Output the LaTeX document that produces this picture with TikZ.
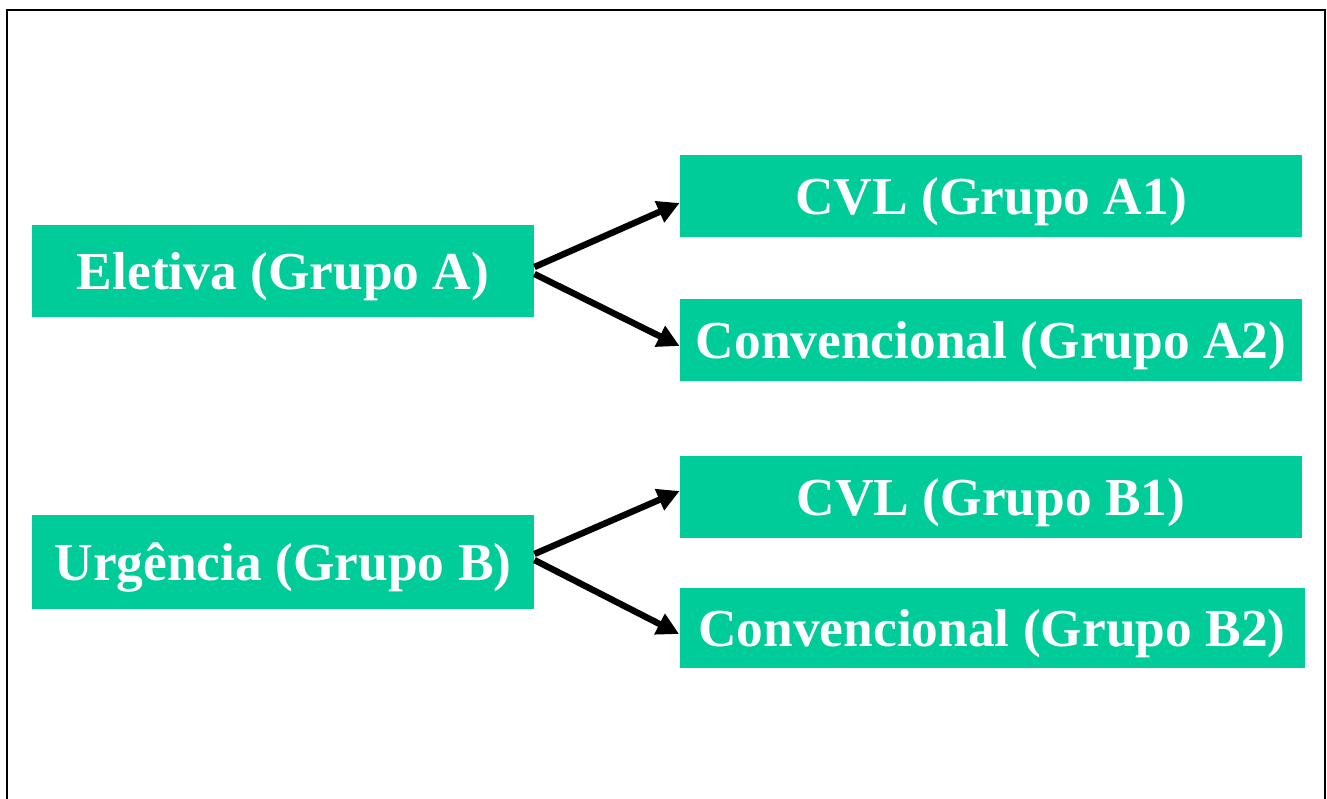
\documentclass[tikz,border=0pt]{standalone}
\usepackage{fontspec}
\setmainfont{Liberation Serif}
\usepackage{tikz}
\usetikzlibrary{arrows.meta,calc,positioning}
\definecolor{grpgreen}{RGB}{0,204,153}
\tikzset{
  grpbox/.style={rectangle,fill=grpgreen,text=white,inner sep=0pt,
    minimum width=251pt,minimum height=46pt,text depth=0pt,
    font=\fontsize{26.7}{30}\selectfont\bfseries},
  subbox/.style={grpbox,minimum width=311pt,minimum height=41pt},
  arr/.style={-{Triangle[length=11pt,width=11pt]},line width=3.2pt},
  frame/.style={line width=1.3pt}
}
\begin{document}
\begin{tikzpicture}[x=0.5pt,y=-0.5pt]
\useasboundingbox (0,0) rectangle (1327,798);
% outer frame (runs off the bottom)
\draw[frame] (7,820) -- (7,10) -- (1325,10) -- (1325,820);
% groups
\node[grpbox] (eletiva) at (283,271) {Eletiva (Grupo A)};
\node[grpbox,minimum height=47pt] (urgencia) at (283,562) {Urgência (Grupo B)};
% subgroups
\node[subbox] (cvlA) at (991,196) {CVL (Grupo A1)};
\node[subbox] (convA) at (991,340) {Convencional (Grupo A2)};
\node[subbox] (cvlB) at (991,497) {CVL (Grupo B1)};
\node[subbox,minimum width=312.5pt,minimum height=40pt] (convB) at (992,628) {Convencional (Grupo B2)};
% arrows
\draw[arr] ([yshift=2pt]eletiva.east) -- ([yshift=-3.5pt]cvlA.west);
\draw[arr] ([yshift=-1.5pt]eletiva.east) -- ([yshift=-3pt]convA.west);
\draw[arr] ([yshift=4pt]urgencia.east) -- ([yshift=3pt]cvlB.west);
\draw[arr] ([yshift=1pt]urgencia.east) -- ([yshift=-3pt]convB.west);
\end{tikzpicture}
\end{document}
